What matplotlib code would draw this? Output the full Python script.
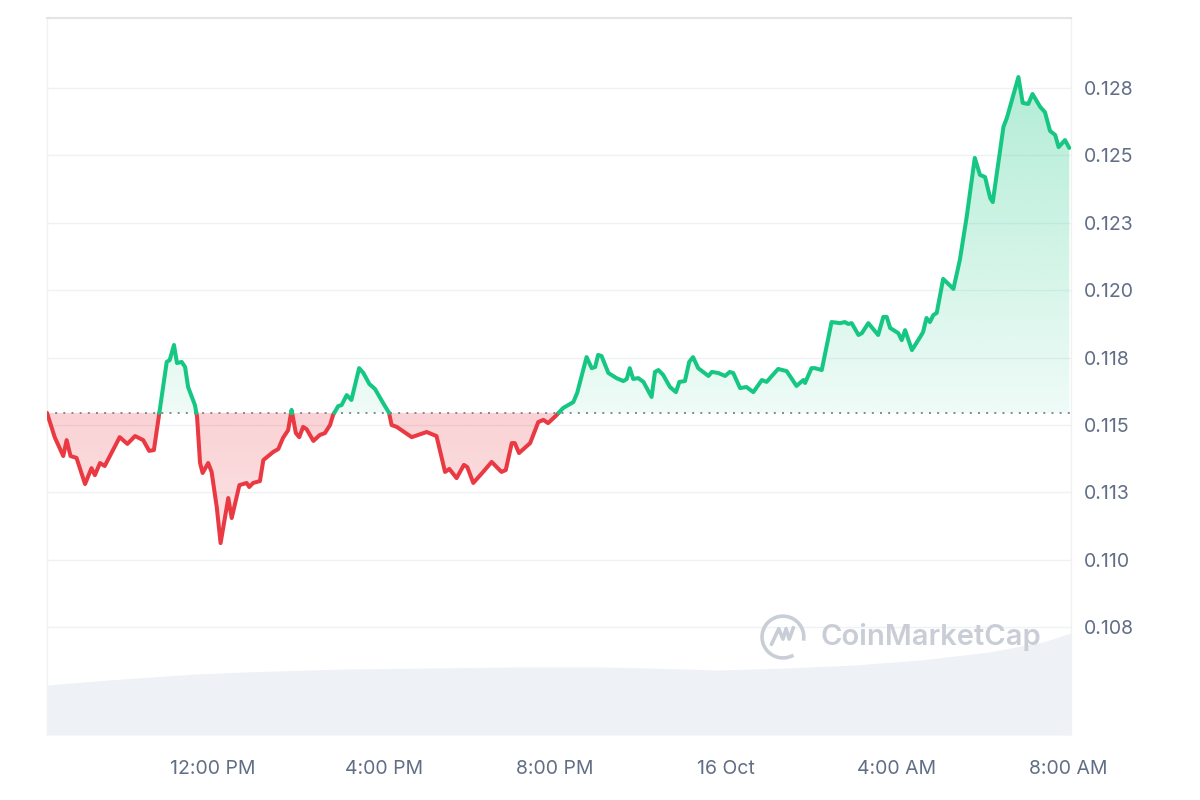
import numpy as np
import matplotlib
matplotlib.use("Agg")
import matplotlib.pyplot as plt
from matplotlib.path import Path
from matplotlib.colors import to_rgb
from matplotlib.patches import Arc

# ---------------- data ----------------
# hours since 15 Oct 08:00
hours = [0.12,0.30,0.50,0.58,0.67,0.81,1.01,1.16,1.24,1.36,
         1.47,1.82,2.00,2.18,2.37,2.51,2.62,2.74,2.92,2.99,
         3.09,3.16,3.27,3.35,3.42,3.58,3.63,3.70,3.76,3.89,
         3.97,4.09,4.18,4.36,4.44,4.62,4.79,4.85,4.94,5.10,
         5.18,5.41,5.53,5.64,5.76,5.84,5.94,6.02,6.11,6.19,
         6.35,6.50,6.62,6.74,6.81,6.93,7.01,7.13,7.24,7.42,
         7.52,7.66,7.79,7.98,8.12,8.18,8.30,8.41,8.65,9.00,
         9.23,9.43,9.53,9.70,9.87,9.95,10.09,10.32,10.52,10.75,
         10.85,10.99,11.06,11.16,11.42,11.61,11.73,11.84,12.04,12.19,
         12.31,12.43,12.52,12.74,12.86,12.94,13.01,13.09,13.25,13.44,
         13.60,13.68,13.75,13.83,13.95,14.07,14.26,14.34,14.42,14.53,
         14.69,14.83,14.91,15.04,15.14,15.23,15.35,15.59,15.67,15.82,
         15.98,16.09,16.17,16.33,16.48,16.64,16.84,16.95,17.22,17.42,
         17.65,17.81,17.85,18.00,18.08,18.24,18.47,18.67,18.78,18.86,
         18.94,19.10,19.18,19.33,19.56,19.68,19.76,19.84,20.03,20.11,
         20.19,20.35,20.54,20.61,20.69,20.77,20.85,20.93,21.08,21.32,
         21.47,21.63,21.82,21.94,22.06,22.18,22.24,22.49,22.57,22.84,
         22.94,23.07,23.17,23.35,23.46,23.58,23.70,23.78,23.93,24.03]

prices = [0.11545,0.11455,0.11385,0.11444,0.11385,0.11378,0.11281,0.11340,0.11314,0.11359,
          0.11348,0.11455,0.11430,0.11459,0.11444,0.11404,0.11407,0.11537,0.11734,0.11741,
          0.11797,0.11730,0.11734,0.11715,0.11641,0.11574,0.11530,0.11359,0.11322,0.11359,
          0.11326,0.11196,0.11062,0.11229,0.11155,0.11277,0.11285,0.11270,0.11285,0.11292,
          0.11370,0.11400,0.11411,0.11452,0.11481,0.11556,0.11470,0.11455,0.11493,0.11485,
          0.11441,0.11463,0.11470,0.11500,0.11537,0.11570,0.11574,0.11611,0.11593,0.11711,
          0.11693,0.11652,0.11634,0.11582,0.11545,0.11500,0.11493,0.11481,0.11455,0.11474,
          0.11459,0.11326,0.11337,0.11303,0.11352,0.11344,0.11285,0.11326,0.11363,0.11326,
          0.11333,0.11433,0.11433,0.11396,0.11433,0.11511,0.11519,0.11507,0.11537,0.11563,
          0.11574,0.11585,0.11619,0.11752,0.11711,0.11715,0.11760,0.11756,0.11693,0.11674,
          0.11663,0.11671,0.11711,0.11671,0.11674,0.11660,0.11604,0.11697,0.11704,0.11686,
          0.11641,0.11622,0.11660,0.11663,0.11734,0.11752,0.11711,0.11682,0.11697,0.11693,
          0.11682,0.11697,0.11693,0.11637,0.11641,0.11622,0.11667,0.11660,0.11708,0.11700,
          0.11645,0.11667,0.11656,0.11711,0.11711,0.11704,0.11882,0.11878,0.11882,0.11875,
          0.11878,0.11834,0.11841,0.11878,0.11834,0.11901,0.11901,0.11860,0.11841,0.11815,
          0.11852,0.11778,0.11826,0.11845,0.11897,0.11882,0.11908,0.11916,0.12042,0.12005,
          0.12112,0.12272,0.12491,0.12428,0.12420,0.12342,0.12327,0.12606,0.12639,0.12791,
          0.12695,0.12691,0.12728,0.12680,0.12661,0.12591,0.12576,0.12531,0.12557,0.12528]

base_price = 0.11545

# volume (millions, relative)
vol_hours = [0.12, 1.54, 3.60, 4.70, 7.09, 11.06, 13.12, 14.22, 15.81, 17.40,
             18.99, 20.56, 22.15, 23.41, 24.07]
vol_values = [5.0, 5.5, 6.1, 6.3, 6.6, 6.8, 6.8, 6.7, 6.5, 6.7,
              7.0, 7.5, 8.3, 9.3, 10.2]

ytick_values = [0.1075, 0.1100, 0.1125, 0.1150, 0.1175, 0.1200, 0.1225, 0.1250, 0.1275]
ytick_labels = ["0.108", "0.110", "0.113", "0.115", "0.118", "0.120", "0.123", "0.125", "0.128"]
xtick_values = [4, 8, 12, 16, 20, 24]
xtick_labels = ["12:00 PM", "4:00 PM", "8:00 PM", "16 Oct", "4:00 AM", "8:00 AM"]

GREEN = "#16c784"
RED = "#ea3943"
TEXT = "#616e85"

x = np.array(hours)
y = np.array(prices)

# ---------------- figure ----------------
fig = plt.figure(figsize=(12, 8), dpi=100)
rect = [47/1200, 65/800, 1024/1200, 717/800]
XLIM = (0.12, 24.07)
YLIM = (0.1035, 0.1301)

# volume axes behind
axv = fig.add_axes(rect)
axv.fill_between(vol_hours, vol_values, 0, color="#eef1f6", lw=0)
axv.set_xlim(*XLIM)
axv.set_ylim(0, 71.7)
axv.axis("off")

ax = fig.add_axes(rect)
ax.set_facecolor("none")
ax.set_xlim(*XLIM)
ax.set_ylim(*YLIM)

# grid
for v in ytick_values:
    ax.axhline(v, color="#eff2f5", lw=1.0, zorder=0)


def gradient_fill(where, color, a_top, a_bot, y_top, y_bot):
    poly = ax.fill_between(x, y, base_price, where=where, interpolate=True,
                           facecolor="none", edgecolor="none")
    path = Path.make_compound_path(*poly.get_paths())
    rgb = to_rgb(color)
    n = 256
    img = np.zeros((n, 1, 4))
    img[:, 0, :3] = rgb
    img[:, 0, 3] = np.linspace(a_top, a_bot, n)
    im = ax.imshow(img, aspect="auto", extent=[XLIM[0], XLIM[1], y_bot, y_top],
                   origin="upper", zorder=1, interpolation="bilinear")
    im.set_clip_path(path, transform=ax.transData)


gradient_fill(y >= base_price, GREEN, 0.33, 0.07, y.max(), base_price)
gradient_fill(y <= base_price, RED, 0.23, 0.14, base_price, y.min())
ax.set_xlim(*XLIM)
ax.set_ylim(*YLIM)

# split line into green/red parts with crossings
xs, ys = [x[0]], [y[0]]
for i in range(1, len(x)):
    y0, y1 = y[i-1] - base_price, y[i] - base_price
    if y0 * y1 < 0:
        t = y0 / (y0 - y1)
        xs.append(x[i-1] + t * (x[i] - x[i-1]))
        ys.append(base_price)
    xs.append(x[i]); ys.append(y[i])
xs = np.array(xs); ys = np.array(ys)
yg = np.where(ys >= base_price, ys, np.nan)
yr = np.where(ys <= base_price + 1e-12, ys, np.nan)
ax.plot(xs, yr, color=RED, lw=2.9, solid_joinstyle="round", solid_capstyle="round", zorder=3)
ax.plot(xs, yg, color=GREEN, lw=2.9, solid_joinstyle="round", solid_capstyle="round", zorder=3)

# dotted baseline
ax.axhline(base_price, color="#7f8896", lw=1.4, ls=(0, (1.0, 3.2)), zorder=2)

# axes styling
for s in ["left", "right"]:
    ax.spines[s].set_color("#f0f1f3")
    ax.spines[s].set_linewidth(1.0)
ax.spines["top"].set_color("#e2e4e8")
ax.spines["top"].set_linewidth(1.5)
ax.spines["bottom"].set_visible(False)

ax.yaxis.tick_right()
ax.set_yticks(ytick_values)
ax.set_yticklabels(ytick_labels)
ax.set_xticks(xtick_values)
ax.set_xticklabels(xtick_labels)
ax.tick_params(axis="both", length=0, colors=TEXT, labelsize=14)
ax.tick_params(axis="y", pad=9)
ax.tick_params(axis="x", pad=18)
for lab in ax.get_xticklabels() + ax.get_yticklabels():
    lab.set_fontfamily("Inter")
    lab.set_color(TEXT)

# watermark
WM = "#c9ced6"
ax.text(0.863, 0.1367, "CoinMarketCap", transform=ax.transAxes, ha="center", va="center",
        fontsize=21, fontweight="semibold", color=WM, family="Inter", zorder=2)
lax = fig.add_axes([783/1200 - 0.0192, 1 - 637/800 - 0.0288, 0.0383, 0.0575])
lax.set_xlim(-1.1, 1.1)
lax.set_ylim(-1.1, 1.1)
lax.set_aspect("equal")
lax.axis("off")
lax.add_patch(Arc((0, 0), 2.0, 2.0, theta1=-10, theta2=300, color=WM, lw=2.6))
lax.plot([-0.55, -0.2, 0.0, 0.15, 0.3, 0.5], [-0.35, 0.4, -0.1, 0.4, -0.1, 0.45],
         color=WM, lw=2.6, solid_joinstyle="round", solid_capstyle="round")

fig.savefig("out.png", dpi=100, facecolor="white")
